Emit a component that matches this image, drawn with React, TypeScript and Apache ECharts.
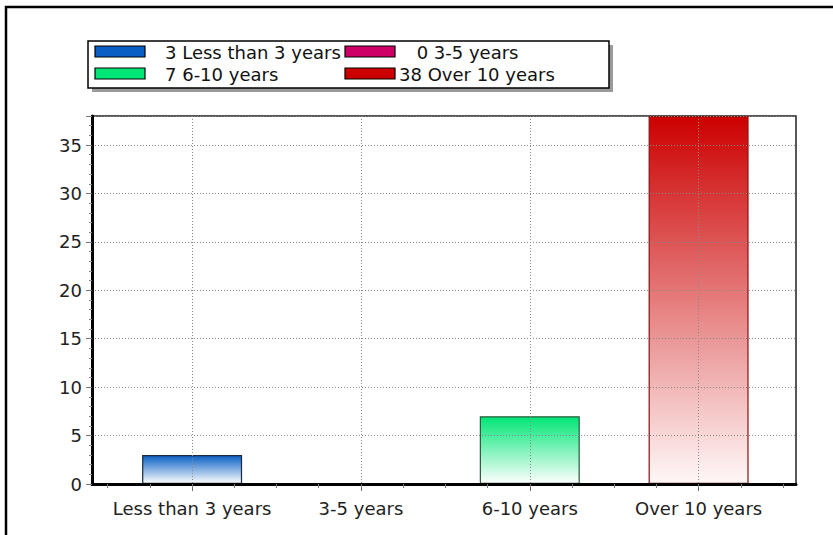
import React, { useEffect, useRef } from "react";
import * as echarts from "echarts";

const categories = ["Less than 3 years", "3-5 years", "6-10 years", "Over 10 years"];
const values = [3, 0, 7, 38];
const topColors = ["#0a5fc4", "#cc0066", "#00e676", "#cc0000"];
const bottomColors = ["#ffffff", "#cc0066", "#ffffff", "#fff8f8"];
const edgeColors = ["#1a2a40", "#cc0066", "#2a5a3a", "#8a1010"];
const yTicks = { min: 0, max: 38, interval: 5 };

const FONT = "DejaVu Sans";
const FS = 18;

export default function App() {
  const ref = useRef<HTMLDivElement>(null);
  useEffect(() => {
    if (!ref.current) return;
    const chart = echarts.init(ref.current, null, { renderer: "svg" });

    const legendGraphics: any[] = [];
    const boxX = 88, boxY = 41, boxW = 521, boxH = 47;
    legendGraphics.push({
      type: "rect", shape: { x: boxX + 4, y: boxY + 4, width: boxW, height: boxH },
      style: { fill: "#9a9a9a" }, z: 10,
    });
    legendGraphics.push({
      type: "rect", shape: { x: boxX, y: boxY, width: boxW, height: boxH },
      style: { fill: "#ffffff", stroke: "#000", lineWidth: 1.5 }, z: 11,
    });
    const colSwatchX = [95, 345];
    const colTextX = [165, 399];
    const rowY = [52, 74];
    const maxLen = [1, 2];
    categories.forEach((c, i) => {
      const col = i % 2, row = Math.floor(i / 2);
      const len = String(values[i]).length;
      legendGraphics.push({
        type: "rect", shape: { x: colSwatchX[col], y: rowY[row] - 6, width: 50, height: 11 },
        style: { fill: topColors[i], stroke: "#000", lineWidth: 1.2 }, z: 12,
      });
      legendGraphics.push({
        type: "text", x: colTextX[col] + (maxLen[col] - len) * FS * 0.98, y: rowY[row],
        style: { text: `${values[i]} ${c}`, fill: "#111", font: `${FS}px '${FONT}'`, align: "left", verticalAlign: "middle" }, z: 12,
      });
    });

    const dotted = [1, 2];
    const plotGrid = { left: 107.7, right: 50, top: 116, bottom: 51 };

    chart.setOption({
      animation: false,
      backgroundColor: "#ffffff",
      textStyle: { fontFamily: FONT },
      graphic: [
        {
          type: "polyline",
          shape: { points: [[6, 540], [6, 7], [840, 7]] },
          style: { stroke: "#000", lineWidth: 2.5, fill: null },
          z: 20,
        },
        ...legendGraphics,
      ],
      grid: [
        { left: 92, right: 37, top: 116, bottom: 51, show: true, borderColor: "#222", borderWidth: 1.5, backgroundColor: "#fff" },
        { ...plotGrid },
        { ...plotGrid },
      ],
      xAxis: [
        {
          gridIndex: 0, type: "value", min: 0, max: 1, z: 6,
          axisLine: { show: true, onZero: false, lineStyle: { color: "#000", width: 3 } },
          axisTick: { show: false }, axisLabel: { show: false }, splitLine: { show: false },
        },
        {
          gridIndex: 1, type: "category", data: categories, boundaryGap: true, z: 6, position: "bottom",
          axisLine: { show: false },
          axisTick: { show: true, alignWithLabel: true, length: 7, lineStyle: { color: "#666", width: 1 } },
          axisLabel: { fontSize: FS, color: "#222", fontFamily: FONT, margin: 15, interval: 0 },
          splitLine: { show: true, alignWithLabel: true, lineStyle: { color: "#888", type: dotted, width: 1 } },
        },
        {
          gridIndex: 2, type: "value", min: -0.5, max: 3.5, interval: 0.25, z: 6, position: "bottom",
          axisLine: { show: false, onZero: false },
          axisTick: { show: true, length: 4, lineStyle: { color: "#777", width: 1 } },
          axisLabel: { show: false }, splitLine: { show: false },
        },
      ],
      yAxis: [
        {
          gridIndex: 0, type: "value", min: yTicks.min, max: yTicks.max, interval: yTicks.interval, z: 6,
          axisLine: { show: true, lineStyle: { color: "#000", width: 3 } },
          axisTick: { show: true, length: 6, lineStyle: { color: "#777", width: 1 } },
          minorTick: { show: true, splitNumber: 5, length: 3, lineStyle: { color: "#888", width: 1 } },
          axisLabel: { fontSize: FS, color: "#222", fontFamily: FONT, margin: 10, showMaxLabel: false },
          splitLine: { show: true, lineStyle: { color: "#888", type: dotted, width: 1 } },
        },
        { gridIndex: 1, type: "value", min: yTicks.min, max: yTicks.max, show: false },
        { gridIndex: 2, type: "value", min: yTicks.min, max: yTicks.max, show: false },
      ],
      series: [
        {
          type: "bar",
          xAxisIndex: 1,
          yAxisIndex: 1,
          barWidth: 100,
          barMinHeight: 1,
          data: values.map((v, i) => ({
            value: v,
            itemStyle: {
              color: new echarts.graphic.LinearGradient(0, 0, 0, 1, [
                { offset: 0, color: topColors[i] },
                { offset: 1, color: bottomColors[i] },
              ]),
              borderColor: edgeColors[i],
              borderWidth: v > 0 ? 1.2 : 0,
            },
          })),
        },
      ],
    });
    return () => chart.dispose();
  }, []);
  return (
    <div
      ref={ref}
      style={{ position: "fixed", left: 0, top: 0, width: 833, height: 535 }}
    />
  );
}
